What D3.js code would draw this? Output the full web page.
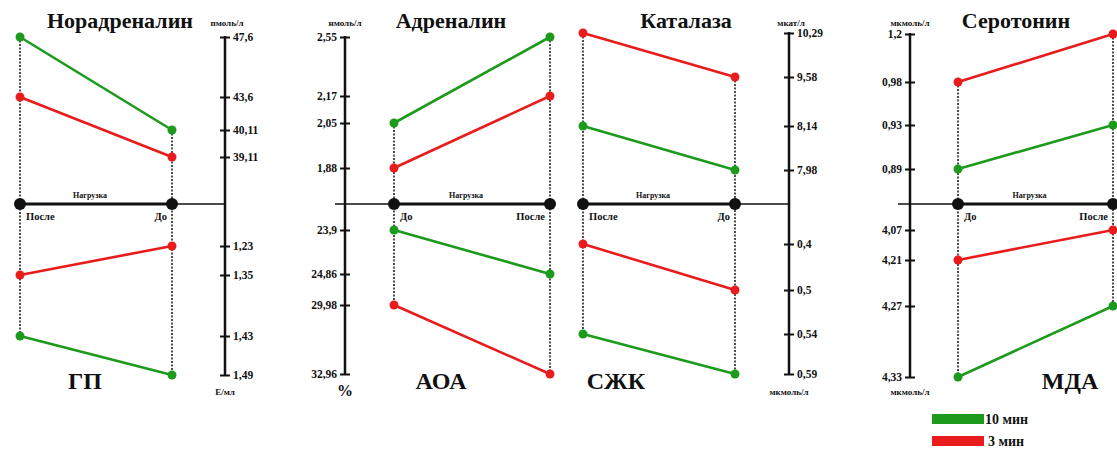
<!DOCTYPE html>
<html>
<head>
<meta charset="utf-8">
<script src="https://cdn.jsdelivr.net/npm/d3@7"></script>
<style>
  body { margin: 0; background: #fff; }
</style>
</head>
<body>
<svg id="chart" width="1117" height="452"></svg>
<script>
// Data: each panel has an upper and a lower indicator, two series (10 min / 3 min)
const titlesTop = ["Норадреналин", "Адреналин", "Каталаза", "Серотонин"];
const titlesBottom = ["ГП", "АОА", "СЖК", "МДА"];
const unitsTop = ["пмоль/л", "нмоль/л", "мкат/л", "мкмоль/л"];
const unitsBottom = ["Е/мл", "%", "мкмоль/л", "мкмоль/л"];
const categories = [["После", "До"], ["До", "После"], ["После", "До"], ["До", "После"]];

const ticksTop = [
  [47.6, 43.6, 40.11, 39.11],
  [2.55, 2.17, 2.05, 1.88],
  [10.29, 9.58, 8.14, 7.98],
  [1.2, 0.98, 0.93, 0.89]
];
const ticksBottom = [
  [1.23, 1.35, 1.43, 1.49],
  [23.9, 24.86, 29.98, 32.96],
  [0.4, 0.5, 0.54, 0.59],
  [4.07, 4.21, 4.27, 4.33]
];

// values in the order of categories[i]
const top10 = [[47.6, 40.11], [2.05, 2.55], [8.14, 7.98], [0.89, 0.93]];
const top3 = [[43.6, 39.11], [1.88, 2.17], [10.29, 9.58], [0.98, 1.2]];
const bottom10 = [[1.43, 1.49], [23.9, 24.86], [0.54, 0.59], [4.33, 4.27]];
const bottom3 = [[1.35, 1.23], [29.98, 32.96], [0.4, 0.5], [4.21, 4.07]];

const legendLabels = ["10 мин", "3 мин"];
const colors = ["#1c9a1c", "#e81c1c"];

// Layout (positions only)
const FONT = "'Liberation Serif', 'Times New Roman', 'DejaVu Serif', serif";
const baseY = 204;
const layout = [
  { xL: 20, xR: 172, axisX: 225, side: "right", lineFrom: 20, lineTo: 225, titleX: 120, subX: 85,
    topY: [37, 97, 130, 157], botY: [246, 275, 336, 375] },
  { xL: 394, xR: 550, axisX: 345, side: "left", lineFrom: 335, lineTo: 550, titleX: 451, subX: 441,
    topY: [37, 96, 123, 168], botY: [230, 274, 305, 374] },
  { xL: 583, xR: 735, axisX: 789, side: "right", lineFrom: 583, lineTo: 789, titleX: 686, subX: 616,
    topY: [33, 77, 126, 170], botY: [244, 290, 334, 374] },
  { xL: 958, xR: 1113, axisX: 910, side: "left", lineFrom: 898, lineTo: 1117, titleX: 1016, subX: 1070,
    topY: [34, 82, 125, 169], botY: [230, 260, 306, 377] }
];

const svg = d3.select("#chart");
const fmt = v => String(v).replace(".", ",");
const txt = (sel, size) => sel.style("font-family", FONT).style("font-weight", "bold")
  .style("font-size", size).attr("fill", "#111");

layout.forEach((L, i) => {
  const g = svg.append("g");
  const x = d3.scalePoint().domain(categories[i]).range([L.xL, L.xR]);
  const yTop = d3.scaleLinear().domain(ticksTop[i]).range(L.topY);
  const yBot = d3.scaleLinear().domain(ticksBottom[i]).range(L.botY);

  const series = [
    { vals: top10[i], y: yTop, c: colors[0] },
    { vals: top3[i], y: yTop, c: colors[1] },
    { vals: bottom10[i], y: yBot, c: colors[0] },
    { vals: bottom3[i], y: yBot, c: colors[1] }
  ];

  // dotted verticals
  categories[i].forEach((cat, k) => {
    const ys = series.map(s => s.y(s.vals[k]));
    g.append("line")
      .attr("x1", x(cat)).attr("x2", x(cat))
      .attr("y1", d3.min(ys)).attr("y2", d3.max(ys))
      .attr("stroke", "#222").attr("stroke-width", 1.6)
      .attr("stroke-dasharray", "2,1.5");
  });

  // vertical value axis
  const axisTop = L.side === "right" ? d3.axisRight(yTop) : d3.axisLeft(yTop);
  const axisBot = L.side === "right" ? d3.axisRight(yBot) : d3.axisLeft(yBot);
  g.append("line")
    .attr("x1", L.axisX).attr("x2", L.axisX)
    .attr("y1", L.topY[0] - 1).attr("y2", L.botY[3] + 1)
    .attr("stroke", "#111").attr("stroke-width", 2.5);
  [[axisTop, ticksTop[i]], [axisBot, ticksBottom[i]]].forEach(([ax, tv]) => {
    const a = g.append("g")
      .attr("transform", `translate(${L.axisX},0)`)
      .call(ax.tickValues(tv).tickFormat(fmt).tickSize(5).tickPadding(5));
    a.select(".domain").remove();
    a.selectAll(".tick line").attr("x1", -5).attr("x2", 5)
      .attr("stroke", "#111").attr("stroke-width", 2);
    txt(a.selectAll(".tick text"), "11.5px")
      .attr("x", L.side === "right" ? 8 : -8);
  });

  // horizontal load axis
  const thinFrom = L.side === "right" ? L.xR : L.lineFrom;
  const thinTo = L.side === "right" ? L.lineTo : L.xL;
  g.append("line").attr("x1", thinFrom).attr("x2", thinTo)
    .attr("y1", baseY).attr("y2", baseY).attr("stroke", "#111").attr("stroke-width", 1.6);
  if (L.side === "left") {
    g.append("line").attr("x1", L.xR).attr("x2", L.lineTo)
      .attr("y1", baseY).attr("y2", baseY).attr("stroke", "#111").attr("stroke-width", 1.6);
  }
  g.append("line").attr("x1", L.xL).attr("x2", L.xR)
    .attr("y1", baseY).attr("y2", baseY).attr("stroke", "#111").attr("stroke-width", 3.2);
  g.selectAll(".bdot").data(categories[i]).enter().append("circle")
    .attr("cx", d => x(d)).attr("cy", baseY).attr("r", 6).attr("fill", "#111");
  txt(g.append("text").attr("x", (L.xL + L.xR) / 2 - 6).attr("y", baseY - 6)
    .attr("text-anchor", "middle"), "8px").text("Нагрузка");
  txt(g.selectAll(".cat").data(categories[i]).enter().append("text")
    .attr("x", (d, k) => k === 0 ? x(d) + 6 : x(d) - 5)
    .attr("y", baseY + 16)
    .attr("text-anchor", (d, k) => k === 0 ? "start" : "end"), "10.5px").text(d => d);

  // series lines and dots
  series.forEach(s => {
    const pts = categories[i].map((cat, k) => [x(cat), s.y(s.vals[k])]);
    g.append("path").attr("d", d3.line()(pts))
      .attr("fill", "none").attr("stroke", s.c).attr("stroke-width", 2.6);
    g.selectAll(null).data(pts).enter().append("circle")
      .attr("cx", d => d[0]).attr("cy", d => d[1]).attr("r", 4.5).attr("fill", s.c);
  });

  // titles and units
  txt(g.append("text").attr("x", L.titleX).attr("y", 28).attr("text-anchor", "middle"), "22px")
    .text(titlesTop[i]);
  txt(g.append("text").attr("x", L.subX).attr("y", 389).attr("text-anchor", "middle"), "24px")
    .text(titlesBottom[i]);
  txt(g.append("text").attr("x", L.axisX + (L.side === "right" ? 2 : 0)).attr("y", 26)
    .attr("text-anchor", "middle"), "9px").text(unitsTop[i]);
  txt(g.append("text").attr("x", L.axisX).attr("y", unitsBottom[i] === "%" ? 396 : 395)
    .attr("text-anchor", "middle"), unitsBottom[i] === "%" ? "16px" : "9px").text(unitsBottom[i]);
});

// legend
const leg = svg.append("g").attr("transform", "translate(932,414)");
legendLabels.forEach((t, k) => {
  leg.append("rect").attr("x", 0).attr("y", k * 22).attr("width", 52).attr("height", 10)
    .attr("fill", colors[k]);
  txt(leg.append("text").attr("x", 53 + (k === 1 ? 3 : 0)).attr("y", k * 22 + 10), "14px").text(t);
});
</script>
</body>
</html>
